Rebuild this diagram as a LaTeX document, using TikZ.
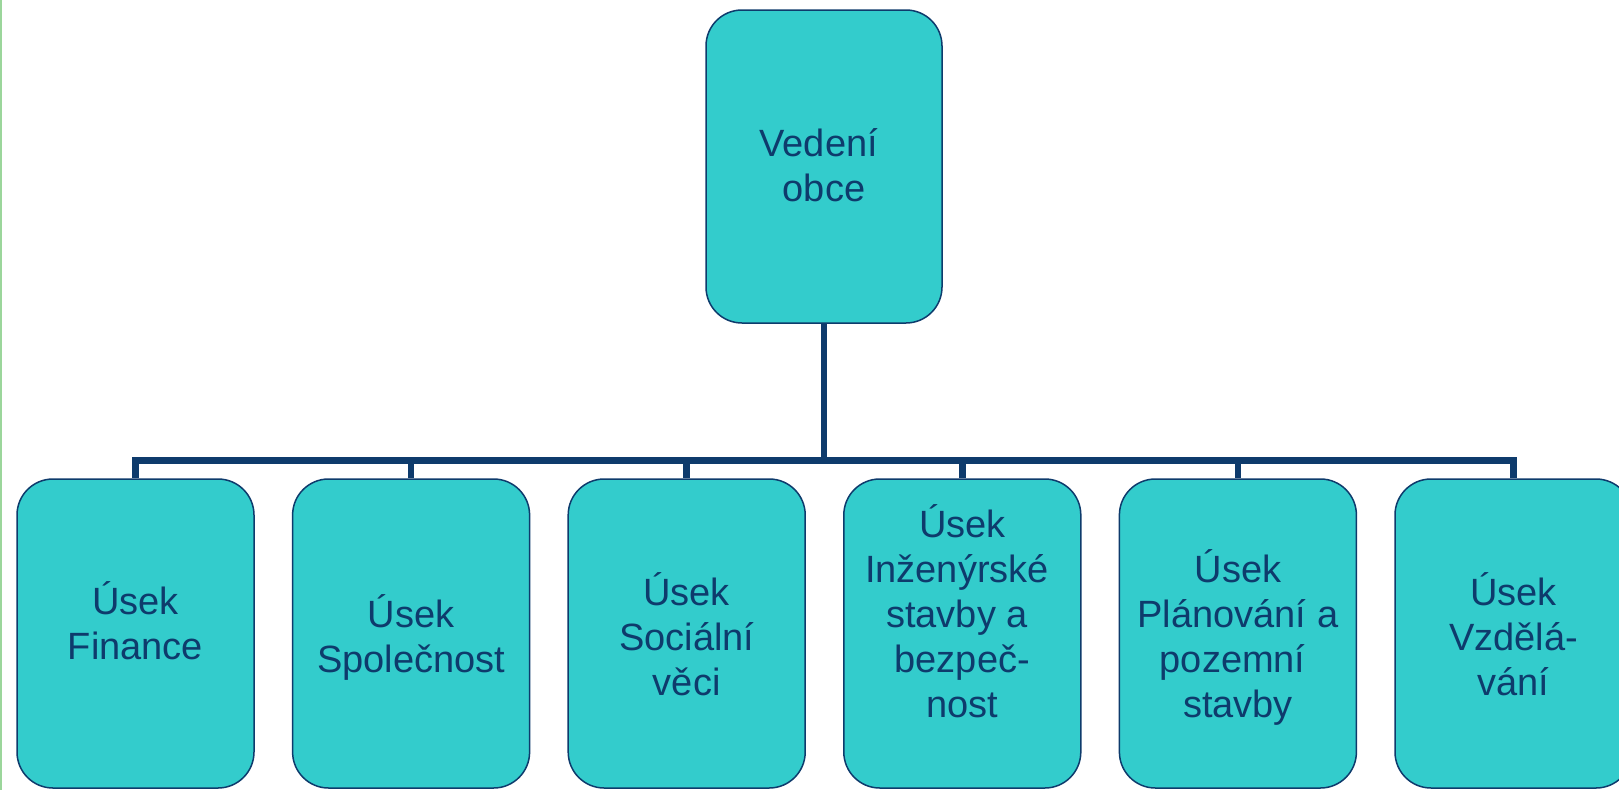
\documentclass[tikz,border=0pt]{standalone}
\usepackage{fontspec}
\setmainfont{Liberation Sans}
\definecolor{boxfill}{RGB}{51,204,204}
\definecolor{navy}{RGB}{14,59,108}
\definecolor{edgegreen}{RGB}{155,214,155}
\tikzset{
  unit/.style={draw=navy, line width=1.5pt, fill=boxfill, rounded corners=36pt,
    minimum width=237pt, minimum height=309pt, inner sep=0pt},
  lbl/.style={text=navy, font=\fontsize{38}{45}\selectfont, align=center, inner sep=0pt},
  link/.style={draw=navy, line width=6.5pt, line join=miter},
}
\newcommand{\trsp}{\kern0.278em}
\begin{document}
\begin{tikzpicture}[x=1pt,y=-1pt]
\useasboundingbox (0,0) rectangle (1619,790);
\clip (0,0) rectangle (1619,790);
\fill[white] (0,0) rectangle (1619,790);
\fill[edgegreen] (0,0) rectangle (1.5,790);

\node[unit, minimum width=236pt, minimum height=313pt] (top) at (824,166.5) {};
\node[unit] (b1) at (135.5,633.5) {};
\node[unit] (b2) at (411.1,633.5) {};
\node[unit] (b3) at (686.7,633.5) {};
\node[unit] (b4) at (962.3,633.5) {};
\node[unit] (b5) at (1237.9,633.5) {};
\node[unit] (b6) at (1513.5,633.5) {};

\foreach \b in {b1,b2,b3,b4,b5,b6}
  \draw[link] (top.south) -- ++(0,136.5) -| (\b.north);

\node[lbl] (t0) at (824,170.2) {\strut Vedení\trsp\\\strut obce};
\node[lbl] (t1) at (135.5,626.8) {\strut Úsek\\\strut Finance};
\node[lbl] (t2) at (411.1,639.8) {\strut Úsek\\\strut Společnost};
\node[lbl] (t3) at (686.7,641) {\strut Úsek\\\strut Sociální\\\strut věci};
\node[lbl] (t4) at (962.3,618.2) {\strut Úsek\\\strut Inženýrské\trsp\\\strut stavby a\trsp\\\strut bezpeč-\\\strut nost};
\node[lbl] (t5) at (1237.9,640.2) {\strut Úsek\\\strut Plánování a\\\strut pozemní\trsp\\\strut stavby};
\node[lbl] (t6) at (1513.5,640.5) {\strut Úsek\\\strut Vzdělá-\\\strut vání};
\end{tikzpicture}
\end{document}
